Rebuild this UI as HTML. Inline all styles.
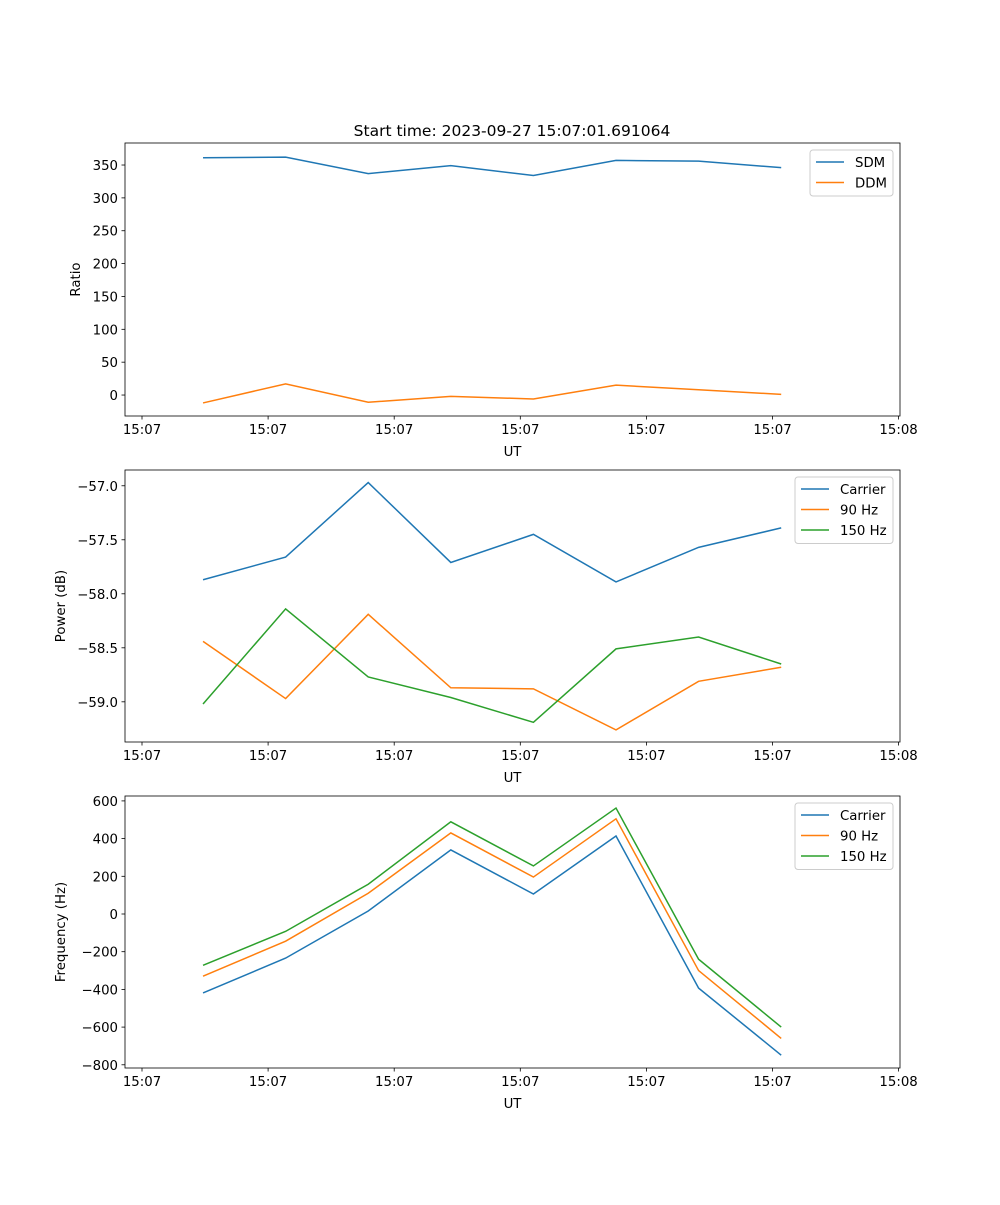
<!DOCTYPE html>
<html><head><meta charset="utf-8"><style>
body{margin:0;background:#fff;}
svg text{font-family:"DejaVu Sans","Liberation Sans",sans-serif;font-size:13.3px;fill:#000;}
</style></head><body>
<svg id="chart" width="1000" height="1200" xmlns="http://www.w3.org/2000/svg">
<text x="512" y="136" text-anchor="middle" font-size="15.5" style="font-size:15.5px">Start time: 2023-09-27 15:07:01.691064</text>
</svg>
<script>
const times = [4.84, 11.39, 17.94, 24.49, 31.04, 37.59, 44.14, 50.69];
const xTickVals = [0, 10, 20, 30, 40, 50, 60];
const xTickLabels = ["15:07","15:07","15:07","15:07","15:07","15:07","15:08"];
const sdm = [361, 362, 337, 349, 334, 357, 356, 346];
const ddm = [-12, 17, -11, -2, -6, 15, 8, 1];
const pwrCarrier = [-57.87, -57.66, -56.97, -57.71, -57.45, -57.89, -57.57, -57.39];
const pwr90 = [-58.44, -58.97, -58.19, -58.87, -58.88, -59.26, -58.81, -58.68];
const pwr150 = [-59.02, -58.14, -58.77, -58.96, -59.19, -58.51, -58.40, -58.65];
const frqCarrier = [-419, -234, 16, 340, 106, 414, -393, -749];
const frq90 = [-330, -144, 110, 430, 196, 505, -300, -660];
const frq150 = [-272, -92, 158, 489, 255, 562, -240, -600];
const ticks1 = [0, 50, 100, 150, 200, 250, 300, 350];
const ticks2 = [-59.0, -58.5, -58.0, -57.5, -57.0];
const ticks3 = [-800, -600, -400, -200, 0, 200, 400, 600];
const C = ["#1f77b4", "#ff7f0e", "#2ca02c"];
const svg = document.getElementById('chart');
const NS = "http://www.w3.org/2000/svg";
function mk(tag, attrs, parent) {
  const e = document.createElementNS(NS, tag);
  for (const k in attrs) e.setAttribute(k, attrs[k]);
  (parent || svg).appendChild(e);
  return e;
}
const L = 125, R = 900;
const xs = t => 142 + (t - 0) * 12.61;
function panel(top, bot, ymin, ymax, yticks, fmt, ylabel, series, names, legW, key) {
  const ys = v => bot - (v - ymin) / (ymax - ymin) * (bot - top);
  const g = mk('g', {});
  
  
  series.forEach((s, i) => {
    const p = mk('polyline', {points: s.map((v, j) => xs(times[j]) + ',' + ys(v)).join(' '), fill: 'none', stroke: C[i], 'stroke-width': 1.5}, g);
    
    
  });
  const fr = mk('rect', {x: L, y: top, width: R - L, height: bot - top, fill: 'none', stroke: '#000', 'stroke-width': 0.8}, g);
  
  
  xTickVals.forEach((t, i) => {
    const x = xs(t);
    mk('line', {x1: x, x2: x, y1: bot, y2: bot + 3.5, stroke: '#000', 'stroke-width': 0.8}, g);
    const tx = mk('text', {x: x, y: bot + 18, 'text-anchor': 'middle'}, g);
    tx.textContent = xTickLabels[i];
    
    
  });
  yticks.forEach(v => {
    const y = ys(v);
    mk('line', {x1: L - 3.5, x2: L, y1: y, y2: y, stroke: '#000', 'stroke-width': 0.8}, g);
    const tx = mk('text', {x: L - 7, y: y + 5, 'text-anchor': 'end'}, g);
    tx.textContent = fmt(v);
    
    
  });
  const xl = mk('text', {x: (L + R) / 2, y: bot + 40, 'text-anchor': 'middle'}, g);
  xl.textContent = 'UT';
  
  
  const ylx = key === 'ratio' ? 80 : 65;
  const yl = mk('text', {x: ylx, y: (top + bot) / 2, 'text-anchor': 'middle', transform: 'rotate(-90 ' + ylx + ' ' + (top + bot) / 2 + ')'}, g);
  yl.textContent = ylabel;
  
  
  const lx = R - 7 - legW, ly = top + 7;
  const lg = mk('g', {}, g);
  
  
  mk('rect', {x: lx, y: ly, width: legW, height: 5 + names.length * 20.5, rx: 3, fill: '#fff', 'fill-opacity': 0.8, stroke: '#ccc'}, lg);
  names.forEach((n, i) => {
    const yy = ly + 12 + i * 20.5;
    mk('line', {x1: lx + 6, x2: lx + 34, y1: yy, y2: yy, stroke: C[i], 'stroke-width': 1.5}, lg);
    const t = mk('text', {x: lx + 45, y: yy + 5}, lg);
    t.textContent = n;
    
    
  });
}
panel(143, 416, -31.9, 383.5, ticks1, v => String(v), 'Ratio', [sdm, ddm], ['SDM', 'DDM'], 83, 'ratio');
panel(470, 742, -59.372, -56.854, ticks2, v => '\u2212' + Math.abs(v).toFixed(1), 'Power (dB)', [pwrCarrier, pwr90, pwr150], ['Carrier', '90 Hz', '150 Hz'], 98, 'power');
panel(796, 1068, -817, 626, ticks3, v => (v < 0 ? '\u2212' : '') + Math.abs(v), 'Frequency (Hz)', [frqCarrier, frq90, frq150], ['Carrier', '90 Hz', '150 Hz'], 98, 'frequency');
</script>
</body></html>
